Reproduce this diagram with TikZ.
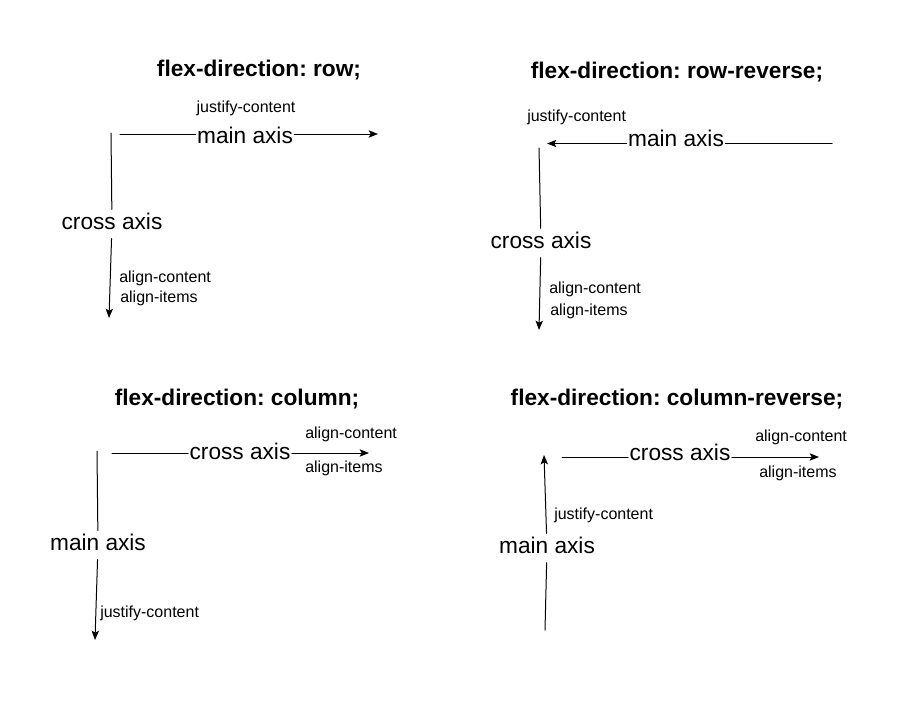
\documentclass[tikz,border=0pt]{standalone}
\usepackage{fontspec}
\setmainfont{Liberation Sans}
\frenchspacing
\usetikzlibrary{arrows.meta}

\begin{document}
\begin{tikzpicture}[line cap=round,line join=round,>={Stealth[length=7pt,width=5.5pt,inset=1.5pt]},x=0.75pt,y=-0.75pt,
  heading/.style={font=\bfseries\fontsize{17}{20}\selectfont},
  axislabel/.style={font=\fontsize{17}{20}\selectfont,inner xsep=1pt,inner ysep=2.25pt,text height=12.75pt,text depth=4.25pt},
  keyword/.style={font=\fontsize{12}{14}\selectfont,inner sep=0pt},
  axisline/.style={line width=0.75pt}]
\useasboundingbox (0,0) rectangle (916,700);
% flex-direction: row
\node[heading] (title1) at (259,70) {flex-direction: row;};
\coordinate (r1s) at (120,134);
\coordinate (r1e) at (378,134);
\node[axislabel] (main1) at (245,138) {main axis};
\draw[axisline] (r1s) -- (main1.west|-r1s);
\draw[axisline,->] (main1.east|-r1s) -- (r1e);
\node[keyword] (jc1) at (246,108) {justify-content};
\coordinate (c1s) at (111,133);
\coordinate (c1e) at (109,318);
\node[axislabel] (cross1) at (112,224) {cross axis};
\draw[axisline] (c1s) -- (cross1);
\draw[axisline,->] (cross1) -- (c1e);
\node[keyword,anchor=west] (ac1) at (119,278) {align-content};
\node[keyword,anchor=west] (ai1) at (120,298) {align-items};
% flex-direction: row-reverse
\node[heading] (title2) at (677,72) {flex-direction: row-reverse;};
\coordinate (r2s) at (832,143.5);
\coordinate (r2e) at (547,143.5);
\node[axislabel] (main2) at (676,141) {main axis};
\draw[axisline] (r2s) -- (main2.east|-r2s);
\draw[axisline,->] (main2.west|-r2s) -- (r2e);
\node[keyword,anchor=west] (jc2) at (527,117) {justify-content};
\coordinate (c2s) at (539,148);
\coordinate (c2e) at (539,330);
\node[axislabel] (cross2) at (541,243) {cross axis};
\draw[axisline] (c2s) -- (cross2);
\draw[axisline,->] (cross2) -- (c2e);
\node[keyword,anchor=west] (ac2) at (549,289) {align-content};
\node[keyword,anchor=west] (ai2) at (550,311) {align-items};
% flex-direction: column
\node[heading] (title3) at (237,399) {flex-direction: column;};
\coordinate (r3s) at (112,453);
\coordinate (r3e) at (369,453);
\node[axislabel] (cross3) at (240,454) {cross axis};
\draw[axisline] (r3s) -- (cross3.west|-r3s);
\draw[axisline,->] (cross3.east|-r3s) -- (r3e);
\node[keyword,anchor=west] (ac3) at (305,434) {align-content};
\node[keyword,anchor=west] (ai3) at (305,468) {align-items};
\coordinate (c3s) at (97,451);
\coordinate (c3e) at (95,640);
\node[axislabel] (main3) at (98,545) {main axis};
\draw[axisline] (c3s) -- (main3);
\draw[axisline,->] (main3) -- (c3e);
\node[keyword,anchor=west] (jc3) at (100,613) {justify-content};
% flex-direction: column-reverse
\node[heading] (title4) at (677,399) {flex-direction: column-reverse;};
\coordinate (r4s) at (562,457);
\coordinate (r4e) at (819,457);
\node[axislabel] (cross4) at (680,455) {cross axis};
\draw[axisline] (r4s) -- (cross4.west|-r4s);
\draw[axisline,->] (cross4.east|-r4s) -- (r4e);
\node[keyword,anchor=west] (ac4) at (755,437) {align-content};
\node[keyword,anchor=west] (ai4) at (759,473) {align-items};
\coordinate (c4s) at (545,630);
\coordinate (c4e) at (544,455);
\node[axislabel] (main4) at (547,548) {main axis};
\draw[axisline] (c4s) -- (main4);
\draw[axisline,->] (main4) -- (c4e);
\node[keyword,anchor=west] (jc4) at (554,515) {justify-content};
\end{tikzpicture}
\end{document}
